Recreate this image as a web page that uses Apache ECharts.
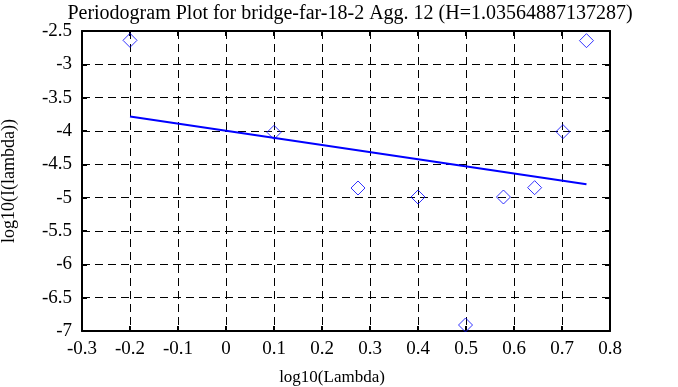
<!DOCTYPE html>
<html>
<head>
<meta charset="utf-8">
<script src="https://cdn.jsdelivr.net/npm/echarts@6/dist/echarts.min.js"></script>
<style>html,body{margin:0;padding:0;background:#fff}#c{width:678px;height:387px}</style>
</head>
<body>
<div id="c"></div>
<script>
const titleText = 'Periodogram Plot for bridge-far-18-2 Agg. 12 (H=1.03564887137287)';
const xName = 'log10(Lambda)';
const yName = 'log10(I(lambda))';
const pointX = [-0.2, 0.1, 0.275, 0.4, 0.499, 0.578, 0.643, 0.702, 0.751];
const pointY = [-2.64, -4.02, -4.855, -4.99, -6.91, -4.99, -4.85, -4.01, -2.645];
const fitX = [-0.2, 0.751];
const fitY = [-3.784, -4.80];

const font = 'Liberation Serif';
const chart = echarts.init(document.getElementById('c'));
const tickStyle = {show: true, inside: true, length: 5, lineStyle: {color: '#000', width: 2}};
const axisLine = {show: true, onZero: false, lineStyle: {color: '#000', width: 2}};
chart.setOption({
  animation: false,
  backgroundColor: '#fff',
  title: {
    text: titleText, left: 345, top: -1, textAlign: 'center',
    textStyle: {fontFamily: font, fontSize: 20, fontWeight: 'normal', color: '#000'}
  },
  grid: {left: 82, right: 68, top: 31, bottom: 56, containLabel: false, outerBoundsMode: 'none'},
  xAxis: [{
    type: 'value', min: -0.3, max: 0.8, interval: 0.1, position: 'bottom',
    axisLine: axisLine, axisTick: tickStyle,
    axisLabel: {fontFamily: font, fontSize: 19, color: '#000', margin: 9,
      formatter: v => String(Math.round(v * 10) / 10)},
    splitLine: {show: true, lineStyle: {color: '#000', width: 1, type: [8, 5]}},
    name: xName, nameLocation: 'middle', nameGap: 38,
    nameTextStyle: {fontFamily: font, fontSize: 17, color: '#000', padding: [0, 28, 0, 0]}
  }, {
    type: 'value', min: -0.3, max: 0.8, interval: 0.1, position: 'top',
    axisLine: axisLine, axisTick: tickStyle, axisLabel: {show: false}, splitLine: {show: false}
  }],
  yAxis: [{
    type: 'value', min: -7, max: -2.5, interval: 0.5, position: 'left',
    axisLine: axisLine, axisTick: tickStyle,
    axisLabel: {fontFamily: font, fontSize: 19, color: '#000', margin: 10,
      formatter: v => String(Math.round(v * 10) / 10)},
    splitLine: {show: true, lineStyle: {color: '#000', width: 1, type: [8, 5]}},
    name: yName, nameLocation: 'middle', nameGap: 64, nameRotate: 90,
    nameTextStyle: {fontFamily: font, fontSize: 18, color: '#000'}
  }, {
    type: 'value', min: -7, max: -2.5, interval: 0.5, position: 'right',
    axisLine: axisLine, axisTick: tickStyle, axisLabel: {show: false}, splitLine: {show: false}
  }],
  series: [{
    type: 'scatter',
    data: pointX.map((x, i) => [x, pointY[i]]),
    symbol: 'diamond', symbolSize: 14,
    itemStyle: {color: 'rgba(0,0,0,0)', borderColor: '#0000ff', borderWidth: 1},
    z: 3
  }, {
    type: 'line',
    data: fitX.map((x, i) => [x, fitY[i]]),
    showSymbol: false, symbol: 'none',
    lineStyle: {color: '#0000ff', width: 2},
    z: 4
  }]
});
</script>
</body>
</html>
